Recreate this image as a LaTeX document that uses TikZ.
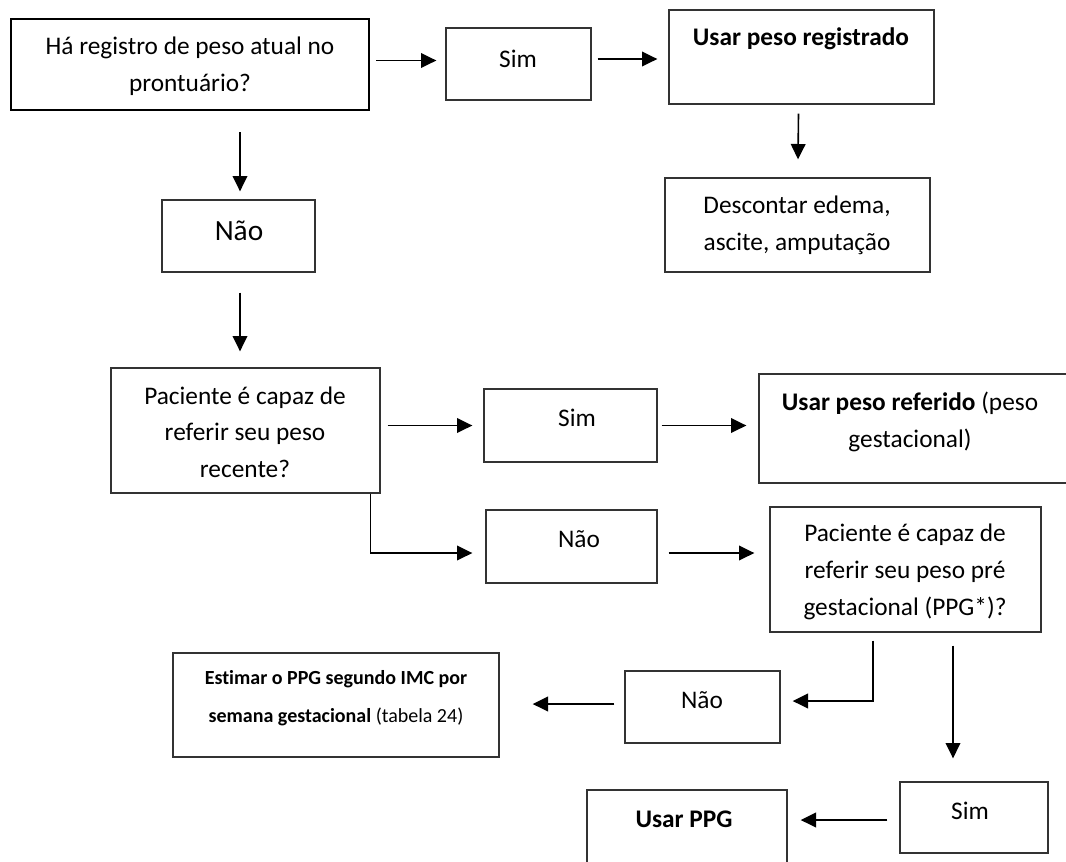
\documentclass[tikz,border=0pt]{standalone}
\usepackage{fontspec}
\setmainfont[Ligatures=NoCommon]{Carlito}
\usetikzlibrary{arrows.meta,calc,fit}

\begin{document}
\begin{tikzpicture}[x=0.75pt,y=-0.75pt,
  box/.style={draw=black!80, line width=1pt, inner sep=0pt},
  firstbox/.style={box, draw=black, line width=1.6pt},
  arr/.style={-{Triangle[length=11.5pt,width=11pt]}, line width=1.2pt},
  txt/.style={font=\fontsize{19}{27.5}\selectfont, align=center, inner sep=0pt},
  bigtxt/.style={txt, font=\fontsize{22}{25}\selectfont},
  smalltxt/.style={txt, font=\fontsize{15}{28.5}\selectfont},
]
\useasboundingbox (0,0) rectangle (1066,861);
\clip (0,0) rectangle (1066,861);

% boxes
\node[firstbox, fit={(11,19)(369,110)}] (b1) {};
\node[box, fit={(446,28)(591,100)}] (s1) {};
\node[box, fit={(669,10)(934,104)}] (r1) {};
\node[box, fit={(665,178)(930,272)}] (d1) {};
\node[box, fit={(162,200)(315,272)}] (n1) {};
\node[box, fit={(111,368)(380,493)}] (p1) {};
\node[box, fit={(484,389)(657,462)}] (s2) {};
\node[box, fit={(486,510)(657,583)}] (n2) {};
\node[box, fit={(759,374)(1075,483)}] (u1) {};
\node[box, fit={(770,507)(1041,632)}] (p2) {};
\node[box, fit={(625,671)(780,743)}] (n3) {};
\node[box, fit={(173,653)(499,757)}] (e1) {};
\node[box, fit={(900,782)(1048,853)}] (s3) {};
\node[box, fit={(587,790)(787,900)}] (g1) {};

% texts
\node[txt] (tb1) at (190,66) {Há registro de peso atual no\\prontuário?};
\node[txt] (ts1) at (518,59) {Sim};
\node[txt] (tr1) at (801,39) {\textbf{Usar peso registrado}};
\node[txt] (td1) at (797,225) {Descontar edema,\\ascite, amputação};
\node[bigtxt] (tn1) at (239,231) {Não};
\node[txt] (tp1) at (245,432) {Paciente é capaz de\\referir seu peso\\recente?};
\node[txt] (ts2) at (577,418) {Sim};
\node[txt] (tn2) at (579,539) {Não};
\node[txt] (tu1) at (910,422) {\textbf{Usar peso referido} (peso\\gestacional)};
\node[txt] (tp2) at (905,572) {Paciente é capaz de\\referir seu peso pré\\gestacional (PPG*)?};
\node[txt] (tn3) at (702,700) {Não};
\node[smalltxt] (te1) at (336,698) {\textbf{Estimar o PPG segundo IMC por}\\\textbf{semana gestacional} (tabela 24)};
\node[txt] (ts3) at (970,811) {Sim};
\node[txt] (tg1) at (684,819) {\textbf{Usar PPG}};

% connectors
\draw[arr] ($(b1.east)+(6,-4)$) -- ($(s1.west |- b1.east)+(-9,-4)$);
\draw[arr] ($(s1.east)+(6,-5)$) -- ($(r1.west |- s1.east)+(-11,-5)$);
\draw[arr] ($(r1.south)+(-3,9)$) -- ($(d1.north)+(0.5,-18)$);
\draw[arr] ($(n1.north |- b1.south)+(1.5,21)$) -- ($(n1.north)+(1.5,-8)$);
\draw[arr] ($(n1.south)+(1.5,20)$) -- ($(n1.south |- p1.north)+(1.5,-16)$);
\draw[arr] ($(p1.east |- s2.west)+(7,0)$) -- ($(s2.west)+(-11,0)$);
\draw[arr] ($(p1.south east)+(-10,0)$) |- ($(n2.west)+(-13,6.5)$);
\draw[arr] ($(s2.east)+(4,0)$) -- ($(u1.west |- s2.east)+(-12,0)$);
\draw[arr] ($(n2.east)+(11,6.5)$) -- ($(p2.west |- n2.east)+(-15,6.5)$);
\draw[arr] ($(p2.south)+(-32.5,8)$) |- ($(n3.east)+(12,-6)$);
\draw[arr] ($(n3.west)+(-10,-3)$) -- ($(e1.east)+(33,-1)$);
\draw[arr] ($(p2.south)+(47.5,13)$) -- ($(s3.north)+(-21,-23)$);
\draw[arr] ($(s3.west)+(-12,2.5)$) -- ($(g1.east |- s3.west)+(13,2.5)$);
\end{tikzpicture}
\end{document}
